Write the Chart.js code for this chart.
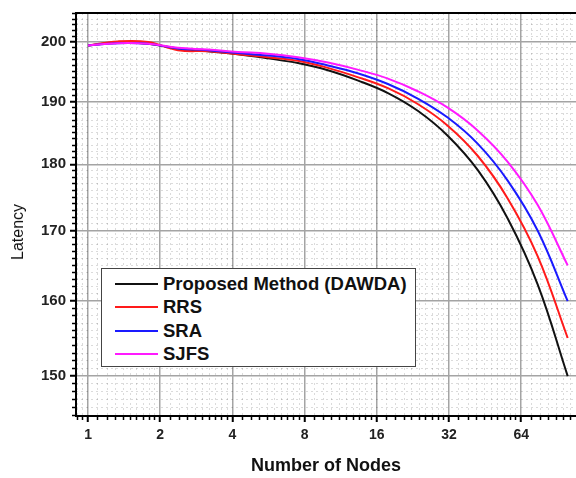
<!DOCTYPE html>
<html>
<head>
<meta charset="utf-8">
<script src="https://cdn.jsdelivr.net/npm/chart.js@4.4.0/dist/chart.umd.min.js"></script>
<style>
    body { margin: 0; background: #fff; }
    #wrap { position: relative; width: 576px; height: 478px; }
    #ytitle {
        position: absolute; left: 18px; top: 232px;
        transform: translate(-50%, -50%) rotate(-90deg);
        font: 16px 'Liberation Sans', Arial, sans-serif; color: #111; white-space: nowrap;
    }
    #legend {
        position: absolute; left: 101px; top: 268px; width: 313px; height: 94px;
        background: #fff; border: 1.5px solid #444; padding-top: 3px; box-sizing: content-box;
    }
    .row { height: 23.5px; line-height: 23.5px; display: flex; align-items: center;
        font: bold 18.5px 'Liberation Sans', Arial, sans-serif; color: #111; }
    .swatch { display: inline-block; width: 43px; height: 2px; margin-left: 13px; margin-right: 5px; }
</style>
</head>
<body>
<div id="wrap">
    <canvas id="latencyChart" width="576" height="478"></canvas>
    <div id="ytitle">Latency</div>
    <div id="legend"></div>
</div>
<script>
// values
const nodes = [1, 1.33, 1.78, 2.37, 3.16, 4.22, 5.62, 7.5, 10, 13.3, 17.8, 23.7, 31.6, 42.2, 56.2, 75, 100];
const dawda = [199.4, 199.9, 199.7, 198.9, 198.4, 197.9, 197.2, 196.4, 195.2, 193.5, 191.4, 188.5, 184.5, 179.1, 171.8, 162.3, 150.0];
const rrs = [199.4, 200.1, 200.0, 198.6, 198.4, 197.9, 197.4, 196.8, 195.6, 194.05, 192.2, 189.6, 186.1, 181.3, 174.8, 166.3, 155.0];
const sra = [199.4, 199.8, 199.7, 198.9, 198.6, 198.1, 197.7, 197.1, 196.0, 194.7, 192.9, 190.5, 187.4, 183.2, 177.5, 170.0, 160.0];
const sjfs = [199.4, 199.8, 199.7, 199.0, 198.7, 198.3, 198.0, 197.4, 196.5, 195.3, 193.8, 191.7, 189.0, 185.3, 180.4, 173.8, 165.0];

const seriesNames = ['Proposed Method (DAWDA)', 'RRS', 'SRA', 'SJFS'];
const seriesColors = ['#111111', '#ff1a1a', '#1a1aff', '#ff1aff'];

const xTicks = [1, 2, 4, 8, 16, 32, 64];
const yTicks = [150, 160, 170, 180, 190, 200];
const xMin = 0.891, xMax = 108.3;
const yMin = 144.93, yMax = 205.06;

function minorXTicks() {
    const out = [];
    for (let k = -1; k <= 6; k++) {
        for (let i = 1; i <= 9; i++) {
            const v = Math.pow(2, k) * (1 + i / 10);
            if (v > xMin && v < xMax) out.push({ value: v });
        }
    }
    return out;
}

function minorYTicks() {
    const out = [];
    for (let v = 145; v <= 205; v++) {
        if (v % 10 !== 0) out.push({ value: v });
    }
    return out;
}

const allSeries = [dawda, rrs, sra, sjfs];
const datasets = allSeries.map((vals, i) => ({
    label: seriesNames[i],
    data: vals.map((v, j) => ({ x: nodes[j], y: v })),
    borderColor: seriesColors[i],
    borderWidth: 2,
    pointRadius: 0,
    fill: false,
    tension: 0.4,
    order: 3 - i
}));

const tickFont = { family: "'Liberation Sans', Arial, sans-serif", weight: 'bold' };
const majorGrid = '#a4a4a4';
const minorGrid = 'rgba(0, 0, 0, 0.14)';

new Chart(document.getElementById('latencyChart').getContext('2d'), {
    type: 'line',
    data: { datasets: datasets },
    options: {
        responsive: false,
        animation: false,
        layout: { padding: { top: 9, right: 0, bottom: 0, left: 0 } },
        plugins: { legend: { display: false }, tooltip: { enabled: false } },
        scales: {
            x: {
                type: 'logarithmic', position: 'bottom', weight: 1,
                min: xMin, max: xMax,
                afterBuildTicks: s => { s.ticks = xTicks.map(v => ({ value: v })); },
                afterFit: s => { s.height = 62; },
                ticks: {
                    callback: v => String(v),
                    font: { ...tickFont, size: 14 }, color: '#222', padding: 5,
                    maxRotation: 0, autoSkip: false
                },
                grid: { color: majorGrid, lineWidth: 1.5, tickLength: 6, tickColor: '#000', tickWidth: 2 },
                border: { color: '#000', width: 2 },
                title: {
                    display: true, text: 'Number of Nodes', color: '#111',
                    font: { ...tickFont, size: 18 }, padding: { top: 0, bottom: 1 }
                }
            },
            xMinor: {
                type: 'logarithmic', position: 'bottom', weight: 0,
                min: xMin, max: xMax,
                afterBuildTicks: s => { s.ticks = minorXTicks(); },
                afterFit: s => { s.height = 0; },
                ticks: { display: false },
                grid: { color: minorGrid, lineWidth: 1, tickLength: 4, tickColor: '#000', tickWidth: 1.5 },
                border: { display: false, dash: [2, 3] }
            },
            xTop: {
                type: 'logarithmic', position: 'top',
                min: xMin, max: xMax,
                afterFit: s => { s.height = 0; },
                ticks: { display: false },
                grid: { display: false, drawTicks: false },
                border: { display: true, color: '#000', width: 2 }
            },
            y: {
                type: 'logarithmic', position: 'left', weight: 1,
                min: yMin, max: yMax,
                afterBuildTicks: s => { s.ticks = yTicks.map(v => ({ value: v })); },
                afterFit: s => { s.width = 76; },
                ticks: {
                    callback: v => String(v),
                    font: { ...tickFont, size: 15 }, color: '#222', padding: 4
                },
                grid: { color: majorGrid, lineWidth: 1.5, tickLength: 6, tickColor: '#000', tickWidth: 2 },
                border: { color: '#000', width: 2 }
            },
            yMinor: {
                type: 'logarithmic', position: 'left', weight: 0,
                min: yMin, max: yMax,
                afterBuildTicks: s => { s.ticks = minorYTicks(); },
                afterFit: s => { s.width = 0; },
                ticks: { display: false },
                grid: { color: minorGrid, lineWidth: 1, tickLength: 4, tickColor: '#000', tickWidth: 1.5 },
                border: { display: false, dash: [2, 3] }
            }
        }
    }
});

// legend box drawn as html so it can sit inside the plot like the original
const legend = document.getElementById('legend');
seriesNames.forEach((name, i) => {
    const row = document.createElement('div');
    row.className = 'row';
    row.innerHTML = `<span class="swatch" style="background:${seriesColors[i]}"></span><span>${name}</span>`;
    legend.appendChild(row);
});
</script>
</body>
</html>
